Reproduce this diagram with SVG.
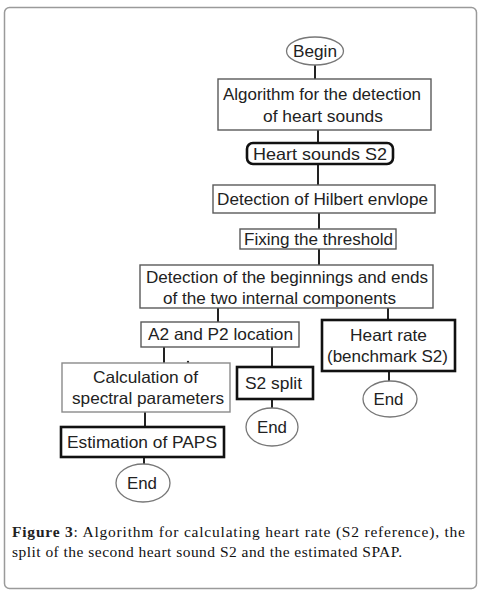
<svg xmlns="http://www.w3.org/2000/svg" width="481" height="595" viewBox="0 0 481 595">
<style>
.box{fill:#fff;stroke:#5a5a5a;stroke-width:1.4}
.light{fill:#fff;stroke:#8a8a8a;stroke-width:1.4}
.thick{fill:#fff;stroke:#111;stroke-width:2.6}
.ell{fill:#fff;stroke:#777;stroke-width:1.3}
.t{font-family:"Liberation Sans",Arial,sans-serif;font-size:16.5px;fill:#222;text-anchor:middle}
.c{stroke:#222;stroke-width:2;fill:none}
.cap{font-family:"Liberation Serif","Times New Roman",serif;font-size:15.5px;fill:#111}
</style>
<rect x="4.5" y="7.5" width="472" height="581" rx="5" fill="#fff" stroke="#9a9a9a" stroke-width="1.5"/>
<g id="connectors">
<line class="c" x1="315" y1="65" x2="315" y2="79"/>
<line class="c" x1="318" y1="130" x2="318" y2="143"/>
<line class="c" x1="318" y1="164" x2="318" y2="185" stroke-width="2.4"/>
<line class="c" x1="319" y1="213" x2="319" y2="229"/>
<line class="c" x1="319" y1="249" x2="319" y2="265"/>
<line class="c" x1="218" y1="308" x2="218" y2="322"/>
<line class="c" x1="388" y1="308" x2="388" y2="320"/>
<line class="c" x1="164" y1="347" x2="164" y2="363"/>
<line class="c" x1="272" y1="347" x2="272" y2="367"/>
<line class="c" x1="145" y1="412" x2="145" y2="427"/>
<line class="c" x1="144" y1="457" x2="144" y2="465"/>
<line class="c" x1="272" y1="399" x2="272" y2="408"/>
<line class="c" x1="389" y1="371" x2="389" y2="382"/>
<circle cx="188" cy="362" r="1.2" fill="#222"/>
</g>
<g id="begin">
<ellipse class="ell" cx="315" cy="51" rx="28.5" ry="14"/>
<text class="t" x="315" y="57" textLength="44" lengthAdjust="spacingAndGlyphs">Begin</text>
</g>
<g id="algorithm">
<rect class="box" x="218" y="79" width="213" height="51"/>
<text class="t" x="322" y="100" textLength="198" lengthAdjust="spacingAndGlyphs">Algorithm for the detection</text>
<text class="t" x="323" y="121.5" textLength="120" lengthAdjust="spacingAndGlyphs">of heart sounds</text>
</g>
<g id="heart-sounds-s2">
<rect class="thick" x="247" y="143" width="146" height="21" rx="6"/>
<text class="t" x="320" y="159.5" textLength="134" lengthAdjust="spacingAndGlyphs">Heart sounds S2</text>
</g>
<g id="hilbert">
<rect class="box" x="213" y="185" width="222" height="28"/>
<text class="t" x="322.5" y="204.5" textLength="211" lengthAdjust="spacingAndGlyphs">Detection of Hilbert envlope</text>
</g>
<g id="threshold">
<rect class="box" x="240" y="229" width="156" height="20"/>
<text class="t" x="318.5" y="245" textLength="149" lengthAdjust="spacingAndGlyphs">Fixing the threshold</text>
</g>
<g id="beginnings-ends">
<rect class="box" x="140" y="265" width="293" height="43"/>
<text class="t" x="287" y="283" textLength="282" lengthAdjust="spacingAndGlyphs">Detection of the beginnings and ends</text>
<text class="t" x="279.5" y="303.5" textLength="233" lengthAdjust="spacingAndGlyphs">of the two internal components</text>
</g>
<g id="a2-p2">
<rect class="box" x="141" y="322" width="158" height="25"/>
<text class="t" x="220.5" y="340" textLength="145" lengthAdjust="spacingAndGlyphs">A2 and P2 location</text>
</g>
<g id="heart-rate">
<rect class="thick" x="322" y="320" width="133" height="51"/>
<text class="t" x="388.5" y="340.5" textLength="77" lengthAdjust="spacingAndGlyphs">Heart rate</text>
<text class="t" x="387.5" y="361.5" textLength="121" lengthAdjust="spacingAndGlyphs">(benchmark S2)</text>
</g>
<g id="end-heart-rate">
<ellipse class="ell" cx="390" cy="399" rx="27" ry="18"/>
<text class="t" x="388.5" y="405" textLength="30" lengthAdjust="spacingAndGlyphs">End</text>
</g>
<g id="calculation">
<rect class="light" x="62" y="363" width="168" height="49"/>
<text class="t" x="145.5" y="382.5" textLength="105" lengthAdjust="spacingAndGlyphs">Calculation of</text>
<text class="t" x="148" y="403.5" textLength="152" lengthAdjust="spacingAndGlyphs">spectral parameters</text>
</g>
<g id="s2-split">
<rect class="thick" x="237" y="367" width="76" height="32"/>
<text class="t" x="273.5" y="388.5" textLength="57" lengthAdjust="spacingAndGlyphs">S2 split</text>
</g>
<g id="end-s2-split">
<ellipse class="ell" cx="272" cy="427" rx="26" ry="19"/>
<text class="t" x="272" y="433" textLength="30" lengthAdjust="spacingAndGlyphs">End</text>
</g>
<g id="estimation">
<rect class="thick" x="61" y="427" width="163" height="30"/>
<text class="t" x="142" y="448" textLength="150" lengthAdjust="spacingAndGlyphs">Estimation of PAPS</text>
</g>
<g id="end-estimation">
<ellipse class="ell" cx="143" cy="483" rx="27" ry="19"/>
<text class="t" x="142" y="489" textLength="30" lengthAdjust="spacingAndGlyphs">End</text>
</g>
<g id="caption">
<text class="cap" x="12" y="537" textLength="453" lengthAdjust="spacing"><tspan font-weight="bold" fill="#222">Figure 3</tspan>: Algorithm for calculating heart rate (S2 reference), the</text>
<text class="cap" x="12" y="557" textLength="390" lengthAdjust="spacing">split of the second heart sound S2 and the estimated SPAP.</text>
</g>
</svg>
